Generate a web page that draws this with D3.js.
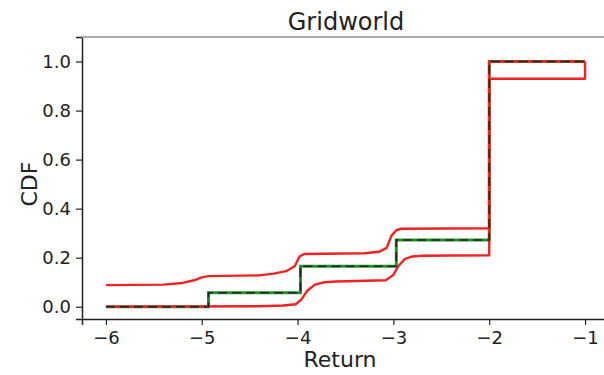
<!DOCTYPE html>
<html>
<head>
<meta charset="utf-8">
<script src="https://cdn.jsdelivr.net/npm/d3@7"></script>
<style>
  html, body { margin: 0; padding: 0; background: #fff; }
  svg { display: block; font-family: "DejaVu Sans", sans-serif; }
</style>
</head>
<body>
<svg id="chart" width="604" height="375"></svg>
<script>
// Empirical CDF of episode return (step function)
const cdfReturn = [-6, -4.93, -4.93, -3.97, -3.97, -2.97, -2.97, -2.0, -2.0, -1.0];
const cdfValue  = [0.0, 0.0, 0.057, 0.057, 0.165, 0.165, 0.272, 0.272, 1.0, 1.0];

// Upper confidence band
const upperReturn = [-6, -5.4, -5.2, -5.08, -5.0, -4.93, -4.4, -4.25, -4.12, -4.03, -3.98, -3.93, -3.3, -3.15, -3.07, -3.02, -2.97, -2.92, -2.0, -2.0, -1.0];
const upperValue  = [0.088, 0.09, 0.097, 0.108, 0.12, 0.125, 0.128, 0.135, 0.145, 0.165, 0.205, 0.215, 0.218, 0.224, 0.24, 0.29, 0.312, 0.318, 0.32, 1.0, 1.0];

// Lower confidence band
const lowerReturn = [-6, -4.4, -4.15, -4.02, -3.96, -3.9, -3.82, -3.72, -3.6, -3.08, -3.0, -2.95, -2.88, -2.8, -2.7, -2.0, -2.0, -1.0, -1.0];
const lowerValue  = [0.0, 0.002, 0.005, 0.01, 0.03, 0.065, 0.09, 0.1, 0.103, 0.108, 0.13, 0.165, 0.195, 0.205, 0.208, 0.21, 0.93, 0.93, 1.0];

const xTicks = [-6, -5, -4, -3, -2, -1];
const yTicks = [0.0, 0.2, 0.4, 0.6, 0.8, 1.0];

const svg = d3.select("#chart");
const margin = { left: 82, top: 37, right: -5, bottom: 56 };
const W = 604, H = 375;

const x = d3.scaleLinear().domain([-6.25, -0.75]).range([margin.left, W - margin.right]);
const y = d3.scaleLinear().domain([-0.05, 1.1]).range([H - margin.bottom, margin.top]);

const zip = (xs, ys) => xs.map((v, i) => [v, ys[i]]);
const line = d3.line().x(d => x(d[0])).y(d => y(d[1]));

const plot = svg.append("g");

// empirical CDF, solid green base
plot.append("path").datum(zip(cdfReturn, cdfValue))
  .attr("d", line).attr("fill", "none")
  .attr("stroke", "#22922a").attr("stroke-width", 3);

// confidence bands
plot.append("path").datum(zip(upperReturn, upperValue))
  .attr("d", line).attr("fill", "none")
  .attr("stroke", "#f22222").attr("stroke-width", 2.4).attr("stroke-linejoin", "round");
plot.append("path").datum(zip(lowerReturn, lowerValue))
  .attr("d", line).attr("fill", "none")
  .attr("stroke", "#f22222").attr("stroke-width", 2.4).attr("stroke-linejoin", "round");

// dark dashes over the CDF
plot.append("path").datum(zip(cdfReturn, cdfValue))
  .attr("d", line).attr("fill", "none")
  .attr("stroke", "#1a2a1a").attr("stroke-width", 1.6)
  .attr("stroke-dasharray", "9,5");

// axes
const xAxis = svg.append("g")
  .attr("transform", `translate(0,${H - margin.bottom})`)
  .call(d3.axisBottom(x).tickValues(xTicks).tickSize(6).tickPadding(6)
    .tickFormat(d => d3.format("d")(d).replace("-", "\u2212")));
const yAxis = svg.append("g")
  .attr("transform", `translate(${margin.left},0)`)
  .call(d3.axisLeft(y).tickValues(yTicks).tickSize(6).tickPadding(5)
    .tickFormat(d3.format(".1f")));

[xAxis, yAxis].forEach(g => {
  g.select(".domain").attr("stroke", "#222").attr("stroke-width", 1.5);
  g.selectAll(".tick line").attr("stroke", "#222").attr("stroke-width", 1.2);
  g.selectAll(".tick text").attr("fill", "#222")
    .style("font-size", "18px").style("font-family", "DejaVu Sans, sans-serif");
});

// top spine
svg.append("line")
  .attr("x1", margin.left).attr("x2", W)
  .attr("y1", margin.top).attr("y2", margin.top)
  .attr("stroke", "#aaa").attr("stroke-width", 2);

// labels
svg.append("text").attr("x", 346).attr("y", 30)
  .attr("text-anchor", "middle").attr("fill", "#222")
  .style("font-size", "24px").text("Gridworld");
svg.append("text").attr("x", 340).attr("y", 367)
  .attr("text-anchor", "middle").attr("fill", "#222")
  .style("font-size", "22px").text("Return");
svg.append("text")
  .attr("transform", `translate(37,${y(0.5)}) rotate(-90)`)
  .attr("text-anchor", "middle").attr("fill", "#222")
  .style("font-size", "22px").text("CDF");
</script>
</body>
</html>
